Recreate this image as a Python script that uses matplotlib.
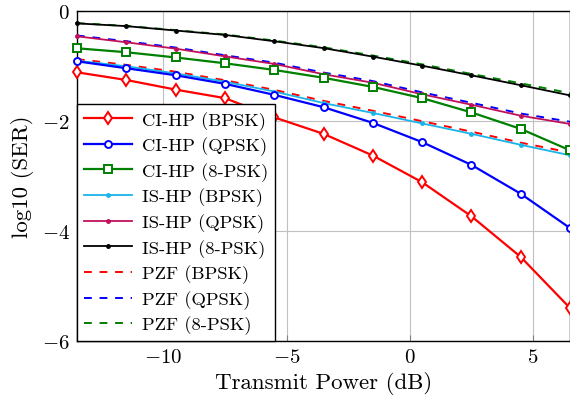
import matplotlib
matplotlib.use("Agg")
import matplotlib.pyplot as plt

plt.rcParams['font.family'] = ['cmr10']
plt.rcParams['mathtext.fontset'] = 'cm'
plt.rcParams['axes.formatter.use_mathtext'] = True
plt.rcParams['axes.unicode_minus'] = True

power_db = [-13.5, -11.5, -9.5, -7.5, -5.5, -3.5, -1.5, 0.5, 2.5, 4.5, 6.5]

ci_bpsk = [-1.11, -1.25, -1.425, -1.58, -1.93, -2.23, -2.625, -3.11, -3.73, -4.47, -5.4]
ci_qpsk = [-0.91, -1.036, -1.164, -1.32, -1.52, -1.745, -2.03, -2.38, -2.795, -3.32, -3.945]
ci_8psk = [-0.673, -0.745, -0.84, -0.946, -1.067, -1.21, -1.376, -1.58, -1.84, -2.14, -2.53]
is_bpsk = [-0.9, -1.0, -1.13, -1.28, -1.46, -1.67, -1.85, -2.04, -2.23, -2.43, -2.62]
is_qpsk = [-0.455, -0.564, -0.68, -0.82, -0.958, -1.145, -1.30, -1.51, -1.70, -1.90, -2.05]
is_8psk = [-0.22, -0.27, -0.35, -0.43, -0.545, -0.67, -0.825, -0.99, -1.165, -1.345, -1.53]
pzf_bpsk = [-0.87, -0.975, -1.10, -1.255, -1.43, -1.63, -1.81, -2.0, -2.19, -2.39, -2.57]
pzf_qpsk = [-0.44, -0.545, -0.66, -0.80, -0.935, -1.115, -1.27, -1.475, -1.665, -1.86, -2.01]
pzf_8psk = [-0.215, -0.265, -0.343, -0.422, -0.533, -0.655, -0.805, -0.965, -1.14, -1.31, -1.49]

labels = ['CI-HP (BPSK)', 'CI-HP (QPSK)', 'CI-HP (8-PSK)',
          'IS-HP (BPSK)', 'IS-HP (QPSK)', 'IS-HP (8-PSK)',
          'PZF (BPSK)', 'PZF (QPSK)', 'PZF (8-PSK)']

RED = '#ff0000'
BLUE = '#0000ff'
GREEN = '#008000'
CYAN = '#18b4ea'
MAG = '#c0105a'
BLACK = '#000000'

fig = plt.figure(figsize=(5.7, 4.02), dpi=100)
ax = fig.add_axes([77/570, 60/402, 493/570, 329.7/402])

ax.plot(power_db, ci_bpsk, color=RED, lw=1.6, marker='d', ms=6, mfc='white', mew=1.4, label=labels[0], clip_on=False, zorder=5)
ax.plot(power_db, ci_qpsk, color=BLUE, lw=1.6, marker='o', ms=5, mfc='white', mew=1.4, label=labels[1], clip_on=False, zorder=5)
ax.plot(power_db, ci_8psk, color=GREEN, lw=1.6, marker='s', ms=5.5, mfc='white', mew=1.4, label=labels[2], clip_on=False, zorder=5)
ax.plot(power_db, is_bpsk, color=CYAN, lw=1.3, marker='o', ms=2.5, label=labels[3], clip_on=False, zorder=4)
ax.plot(power_db, is_qpsk, color=MAG, lw=1.3, marker='o', ms=2.5, label=labels[4], clip_on=False, zorder=4)
ax.plot(power_db, is_8psk, color=BLACK, lw=1.3, marker='o', ms=2.5, label=labels[5], clip_on=False, zorder=4)
ax.plot(power_db, pzf_bpsk, color=RED, lw=1.4, ls=(0, (4, 4)), label=labels[6], zorder=3)
ax.plot(power_db, pzf_qpsk, color=BLUE, lw=1.4, ls=(0, (4, 4)), label=labels[7], zorder=3)
ax.plot(power_db, pzf_8psk, color=GREEN, lw=1.4, ls=(0, (4, 4)), label=labels[8], zorder=3)

ax.set_xlim(-13.5, 6.5)
ax.set_ylim(-6, 0)
ax.set_xticks([-10, -5, 0, 5])
ax.set_yticks([-6, -4, -2, 0])
ax.grid(True, color='#c0c0c0', lw=0.8)
ax.set_axisbelow(True)
ax.tick_params(direction='in', length=4, color='#808080', labelsize=15, pad=5)
for s in ax.spines.values():
    s.set_linewidth(1.0)

ax.set_xlabel('Transmit Power (dB)', fontsize=16.5, labelpad=4)
ax.set_ylabel('log10 (SER)', fontsize=16.5, labelpad=6)

leg = ax.legend(loc='lower left', bbox_to_anchor=(0, 0), borderaxespad=0,
                fancybox=False, edgecolor='black', framealpha=1, fontsize=13.4,
                handlelength=2.6, handletextpad=0.55, labelspacing=0.37,
                borderpad=0.35)
leg.get_frame().set_linewidth(1.0)
leg.set_zorder(10)

fig.savefig('out.png', dpi=100)
